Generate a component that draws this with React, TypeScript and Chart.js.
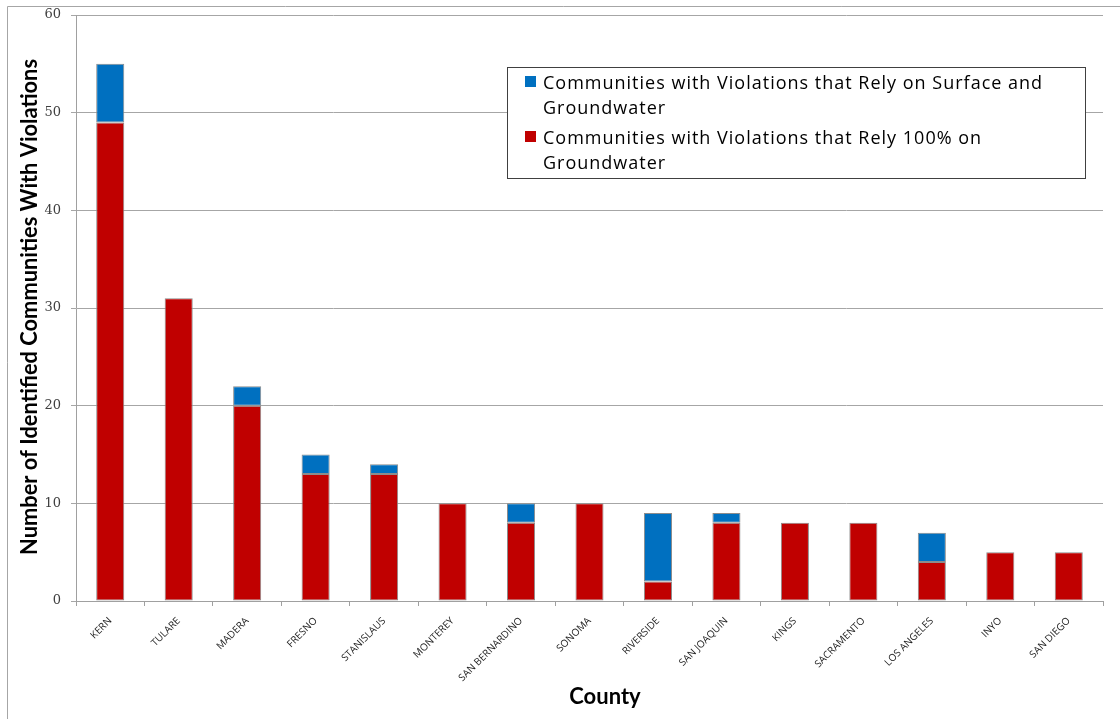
import React, { useEffect, useRef } from "react";
import { Chart, registerables } from "chart.js";

Chart.register(...registerables);

const counties = [
  "KERN", "TULARE", "MADERA", "FRESNO", "STANISLAUS", "MONTEREY", "SAN BERNARDINO",
  "SONOMA", "RIVERSIDE", "SAN JOAQUIN", "KINGS", "SACRAMENTO", "LOS ANGELES", "INYO", "SAN DIEGO",
];
const groundwaterOnly = [49, 31, 20, 13, 13, 10, 8, 10, 2, 8, 8, 8, 4, 5, 5];
const surfaceAndGround = [6, 0, 2, 2, 1, 0, 2, 0, 7, 1, 0, 0, 3, 0, 0];
const yTicks = [0, 10, 20, 30, 40, 50, 60];

const legendLabels = [
  { color: "#0070C0", lines: ["Communities with Violations that Rely on Surface and", "Groundwater"] },
  { color: "#C00000", lines: ["Communities with Violations that Rely 100% on", "Groundwater"] },
];

const decorPlugin = {
  id: "decor",
  afterDraw(chart: any) {
    const ctx = chart.ctx as CanvasRenderingContext2D;
    ctx.save();
    // outer frame
    ctx.strokeStyle = "#a6a6a6";
    ctx.lineWidth = 1;
    ctx.beginPath();
    ctx.moveTo(7.5, 719);
    ctx.lineTo(7.5, 6.5);
    ctx.lineTo(1120, 6.5);
    ctx.stroke();

    // legend box
    const bx = 507, by = 67, bw = 578, bh = 111;
    ctx.fillStyle = "#ffffff";
    ctx.fillRect(bx, by, bw, bh);
    ctx.strokeStyle = "#404040";
    ctx.strokeRect(bx + 0.5, by + 0.5, bw, bh);
    ctx.font = "18px 'Open Sans'";
    (ctx as any).letterSpacing = "1px";
    ctx.textBaseline = "alphabetic";
    ctx.textAlign = "left";
    legendLabels.forEach((item, i) => {
      const top = by + 9 + i * 55;
      ctx.fillStyle = item.color;
      ctx.fillRect(bx + 18, top, 11, 11);
      ctx.fillStyle = "#000000";
      item.lines.forEach((ln, j) => {
        ctx.fillText(ln, bx + 36, top + 13 + j * 25, 505);
      });
    });
    (ctx as any).letterSpacing = "0px";

    // axis titles
    ctx.fillStyle = "#000000";
    ctx.font = "bold 22px Lato";
    ctx.textAlign = "center";
    ctx.textBaseline = "middle";
    ctx.fillText("County", 605, 697);
    ctx.save();
    ctx.translate(30, 307);
    ctx.rotate(-Math.PI / 2);
    ctx.fillText("Number of Identified Communities With Violations", 0, 0, 496);
    ctx.restore();
    ctx.restore();
  },
};

export default function App() {
  const ref = useRef<HTMLCanvasElement>(null);
  useEffect(() => {
    if (!ref.current) return;
    const chart = new Chart(ref.current, {
      type: "bar",
      data: {
        labels: counties,
        datasets: [
          {
            label: "Communities with Violations that Rely 100% on Groundwater",
            data: groundwaterOnly.map((v) => (v === 0 ? null : v)),
            backgroundColor: "#C00000",
            borderColor: "#8c8c8c",
            borderWidth: 1,
            borderSkipped: false,
          },
          {
            label: "Communities with Violations that Rely on Surface and Groundwater",
            data: surfaceAndGround.map((v) => (v === 0 ? null : v)),
            backgroundColor: "#0070C0",
            borderColor: "#8c8c8c",
            borderWidth: 1,
            borderSkipped: false,
          },
        ],
      },
      options: {
        animation: false,
        responsive: false,
        maintainAspectRatio: false,
        layout: { padding: { top: 15, right: 17, left: 0, bottom: 0 } },
        datasets: { bar: { barPercentage: 0.41, categoryPercentage: 1 } },
        plugins: { legend: { display: false }, tooltip: { enabled: false } },
        scales: {
          x: {
            stacked: true,
            grid: { offset: true, drawOnChartArea: false, drawTicks: true, tickLength: 5, color: "#a0a0a0" },
            border: { color: "#a0a0a0" },
            ticks: {
              minRotation: 45,
              maxRotation: 45,
              autoSkip: false,
              color: "#222222",
              font: { family: "'Open Sans'", size: 10 },
              padding: 9,
            },
            afterFit(scale: any) {
              scale.height = 118;
            },
          },
          y: {
            stacked: true,
            min: 0,
            max: 60,
            afterBuildTicks(scale: any) {
              scale.ticks = yTicks.map((v) => ({ value: v }));
            },
            grid: { color: "#a6a6a6", tickLength: 5 },
            border: { color: "#a0a0a0" },
            ticks: {
              color: "#404040",
              font: { family: "'DejaVu Serif'", size: 13 },
              padding: 10,
            },
            afterFit(scale: any) {
              scale.width = 76;
              scale.paddingTop = 0;
              scale.paddingBottom = 0;
            },
          },
        },
      },
      plugins: [decorPlugin],
    });
    return () => chart.destroy();
  }, []);
  return (
    <div style={{ position: "fixed", left: 0, top: 0, width: 1120, height: 719, background: "#fff" }}>
      <canvas ref={ref} width={1120} height={719} style={{ display: "block" }} />
    </div>
  );
}
